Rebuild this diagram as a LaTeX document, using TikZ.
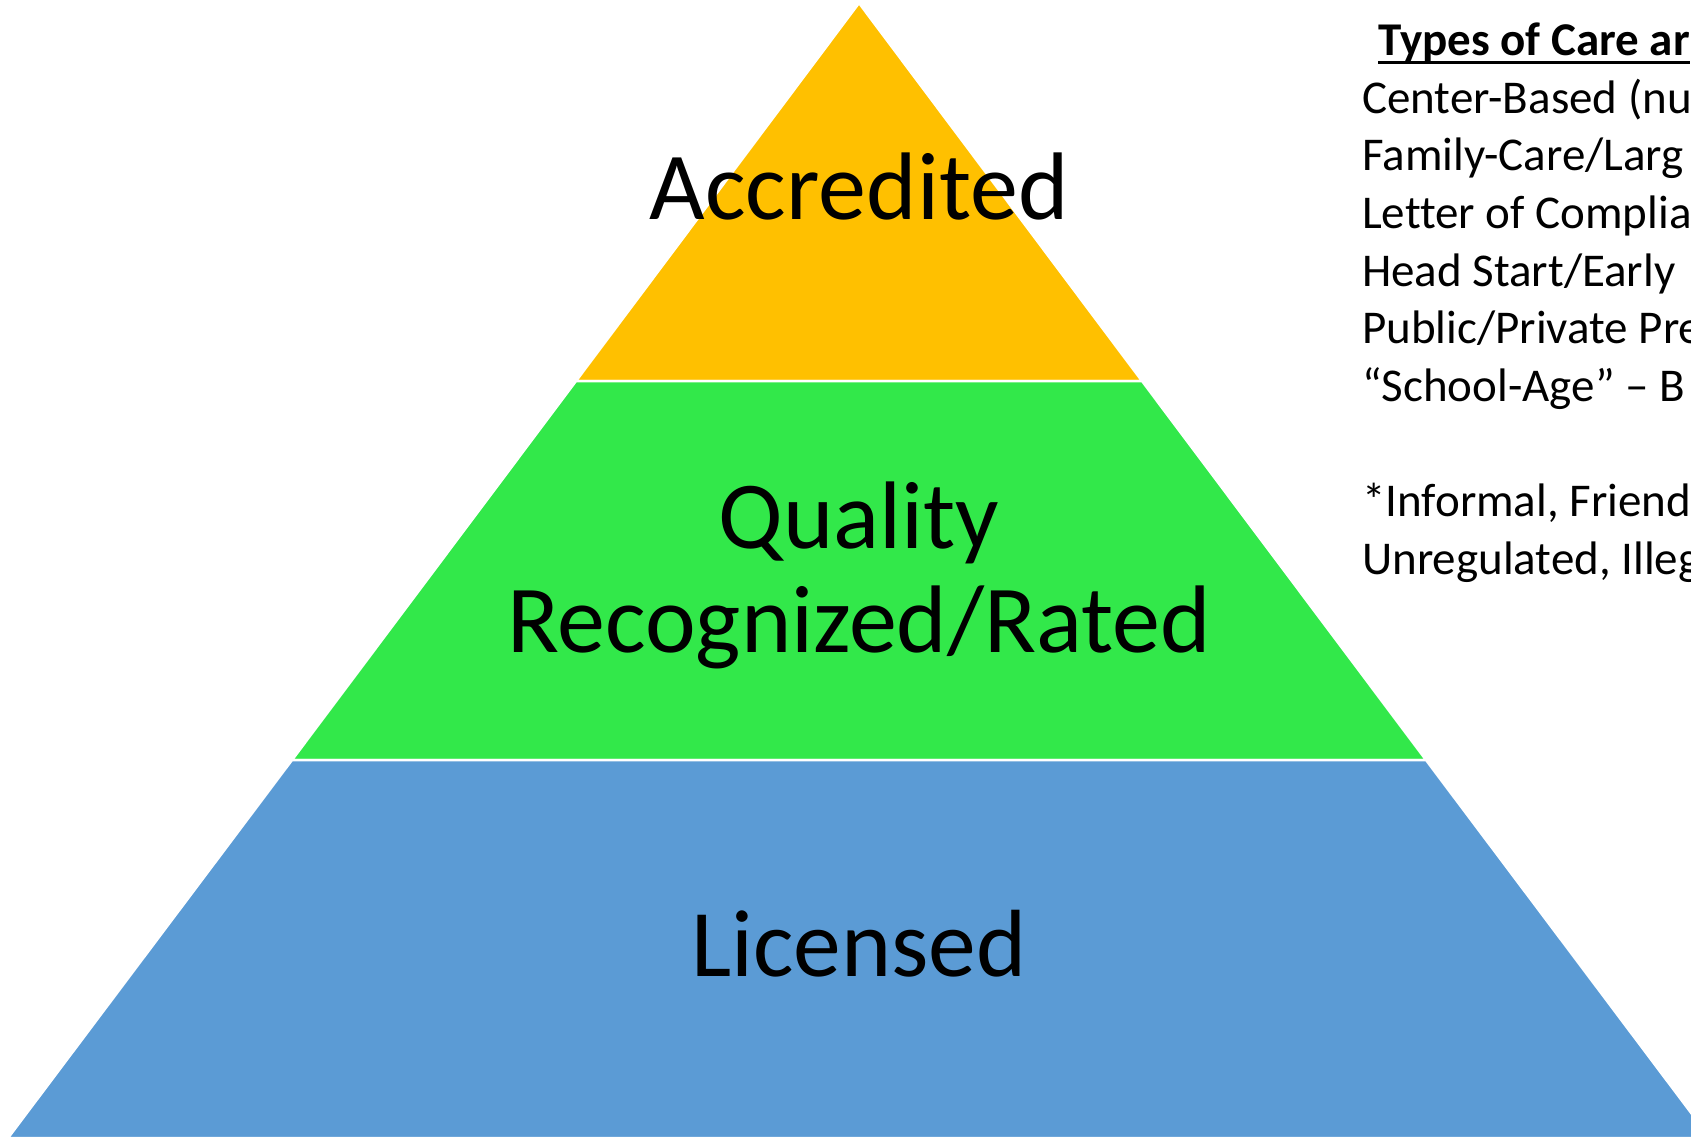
\documentclass[tikz,border=0pt]{standalone}
\usepackage{fontspec}
\setmainfont{Carlito}[Ligatures=NoCommon]
\definecolor{accyellow}{HTML}{FFC000}
\definecolor{qualgreen}{HTML}{32E84A}
\definecolor{licblue}{HTML}{5B9BD5}
\begin{document}
\begin{tikzpicture}[x=1pt,y=-1pt,
  band/.style={draw=white,line width=2.5pt,line join=miter},
  tiertext/.style={font=\fontsize{96}{104}\selectfont,align=center,anchor=base,inner sep=0pt},
  caretext/.style={font=\fontsize{47}{57.5}\selectfont,anchor=base west,inner sep=0pt}]
  \useasboundingbox (0,0) rectangle (1691,1140);
  \clip (0,0) rectangle (1691,1140);
  % corners of the pyramid bands
  \coordinate (top) at (859,3);
  \coordinate (al) at (576,381);  \coordinate (ar) at (1142,381);
  \coordinate (ql) at (292,760);  \coordinate (qr) at (1426,760);
  \coordinate (ll) at (8,1138);   \coordinate (lr) at (1710,1138);
  \filldraw[band,fill=accyellow] (top) -- (ar) -- (al) -- cycle;
  \filldraw[band,fill=qualgreen] (al) -- (ar) -- (qr) -- (ql) -- cycle;
  \filldraw[band,fill=licblue] (ql) -- (qr) -- (lr) -- (ll) -- cycle;
  \node[tiertext] (acc) at (859,219) {Accredited};
  \node[tiertext] (qual) at (859,652) {Quality\\Recognized/Rated};
  \node[tiertext,font=\fontsize{95.5}{104}\selectfont] (lic) at (859,976) {Licensed};
  % list on the right
  \node[caretext,font=\fontsize{47}{57.5}\selectfont\bfseries] (ttl) at (1378,56) {Types of Care ar};
  \draw[line width=3pt] ([yshift=-7pt]ttl.base west) -- ([yshift=-7pt]ttl.base east);
  \foreach \ypos/\txt [count=\i] in {113/{Center-Based (nu},170/{Family-Care/Larg},
      228/{Letter of Complia},286/{Head Start/Early},343/{Public/Private Pre},
      401/{“School-Age” – B},516/{*Informal, Friend},574/{Unregulated, Illeg}}
    \node[caretext] (care\i) at (1362,\ypos) {\txt};
\end{tikzpicture}
\end{document}
